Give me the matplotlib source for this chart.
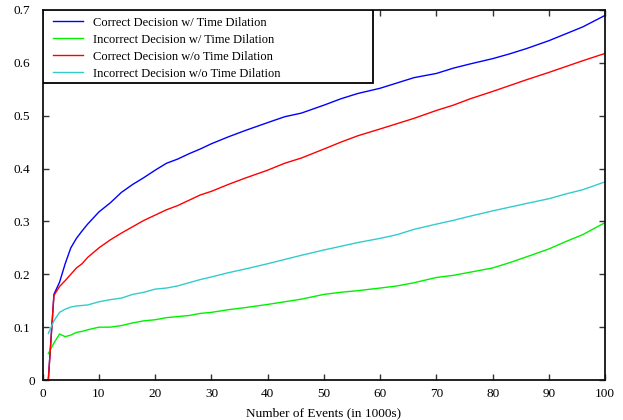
import matplotlib
matplotlib.use("Agg")
import matplotlib.pyplot as plt
from matplotlib.patches import Rectangle
from matplotlib.transforms import ScaledTranslation

x = [1, 2, 3, 4, 5, 6, 7, 8, 10, 12, 14, 16, 18, 20, 22, 24, 26, 28, 30, 33, 36, 40,
     43, 46, 50, 53, 56, 60, 63, 66, 70, 73, 76, 80, 83, 86, 90, 93, 96, 100]

correct_td = [0.0, 0.162, 0.185, 0.22, 0.25, 0.268, 0.282, 0.295, 0.318, 0.335, 0.355,
              0.37, 0.383, 0.397, 0.41, 0.418, 0.428, 0.437, 0.447, 0.46, 0.472, 0.487,
              0.498, 0.505, 0.52, 0.532, 0.542, 0.552, 0.562, 0.572, 0.58, 0.59, 0.598,
              0.608, 0.617, 0.627, 0.642, 0.655, 0.668, 0.69]

incorrect_td = [0.05, 0.07, 0.087, 0.082, 0.085, 0.09, 0.092, 0.095, 0.1, 0.1, 0.103,
                0.108, 0.112, 0.114, 0.118, 0.12, 0.122, 0.126, 0.128, 0.133, 0.137,
                0.143, 0.148, 0.153, 0.162, 0.166, 0.169, 0.174, 0.178, 0.184, 0.194,
                0.198, 0.204, 0.212, 0.222, 0.233, 0.248, 0.262, 0.275, 0.298]

correct_notd = [0.0, 0.16, 0.177, 0.188, 0.2, 0.212, 0.22, 0.232, 0.25, 0.265, 0.278,
                0.29, 0.302, 0.312, 0.322, 0.33, 0.34, 0.35, 0.357, 0.37, 0.382, 0.397,
                0.41, 0.42, 0.437, 0.45, 0.462, 0.475, 0.485, 0.495, 0.51, 0.52, 0.532,
                0.546, 0.557, 0.568, 0.582, 0.593, 0.604, 0.618]

incorrect_notd = [0.088, 0.112, 0.128, 0.134, 0.138, 0.14, 0.141, 0.142, 0.148, 0.152,
                  0.155, 0.162, 0.166, 0.172, 0.174, 0.178, 0.184, 0.19, 0.195, 0.203,
                  0.21, 0.22, 0.228, 0.236, 0.246, 0.253, 0.26, 0.268, 0.275, 0.285,
                  0.295, 0.302, 0.31, 0.32, 0.327, 0.334, 0.343, 0.352, 0.36, 0.375]

labels = ["Correct Decision w/ Time Dilation",
          "Incorrect Decision w/ Time Dilation",
          "Correct Decision w/o Time Dilation",
          "Incorrect Decision w/o Time Dilation"]
colors = ["#0000ff", "#00f000", "#ff0000", "#33cccc"]

xticks = [0, 10, 20, 30, 40, 50, 60, 70, 80, 90, 100]
yticks = [0, 0.1, 0.2, 0.3, 0.4, 0.5, 0.6, 0.7]
ytick_labels = ["0", "0.1", "0.2", "0.3", "0.4", "0.5", "0.6", "0.7"]

plt.rcParams['font.family'] = ['Liberation Serif', 'DejaVu Serif']

fig = plt.figure(figsize=(6.23, 4.2), dpi=100)
ax = fig.add_axes([0.0685, 0.0952, 0.903, 0.881])

series = [correct_td, incorrect_td, correct_notd, incorrect_notd]
for ys, c, lab in zip(series, colors, labels):
    ax.plot(x, ys, color=c, lw=1.0, label=lab)

ax.set_xlim(0, 100)
ax.set_ylim(0, 0.7)
ax.set_xticks(xticks)
ax.set_yticks(yticks)
ax.set_yticklabels(ytick_labels)
ax.tick_params(direction='in', top=True, right=True, length=4, width=1,
               labelsize=9.5, color='#333333')
ax.tick_params(axis='y', pad=9)
ax.tick_params(axis='x', pad=6)
for s in ax.spines.values():
    s.set_linewidth(1.3)
    s.set_color('#111111')
ax.set_xlabel("Number of Events (in 1000s)", fontsize=9.5, labelpad=5)

# the "0" label sits a little closer to the axis in the reference
zero_lab = ax.yaxis.get_major_ticks()[0].label1
zero_lab.set_transform(zero_lab.get_transform() +
                       ScaledTranslation(5 / 100, 0, fig.dpi_scale_trans))

# legend box (frame drawn separately to match the wide reference box)
box = Rectangle((0, 0.8027), 0.587, 1 - 0.8027, transform=ax.transAxes,
                facecolor='white', edgecolor='black', lw=1.3, zorder=4)
ax.add_patch(box)
leg = ax.legend(loc='upper left', bbox_to_anchor=(0.0185, 0.982),
                borderaxespad=0, borderpad=0, frameon=False,
                fontsize=9, handlelength=2.4, handletextpad=0.8, labelspacing=0.4)
leg.set_zorder(5)

fig.savefig("out.png", dpi=100)
